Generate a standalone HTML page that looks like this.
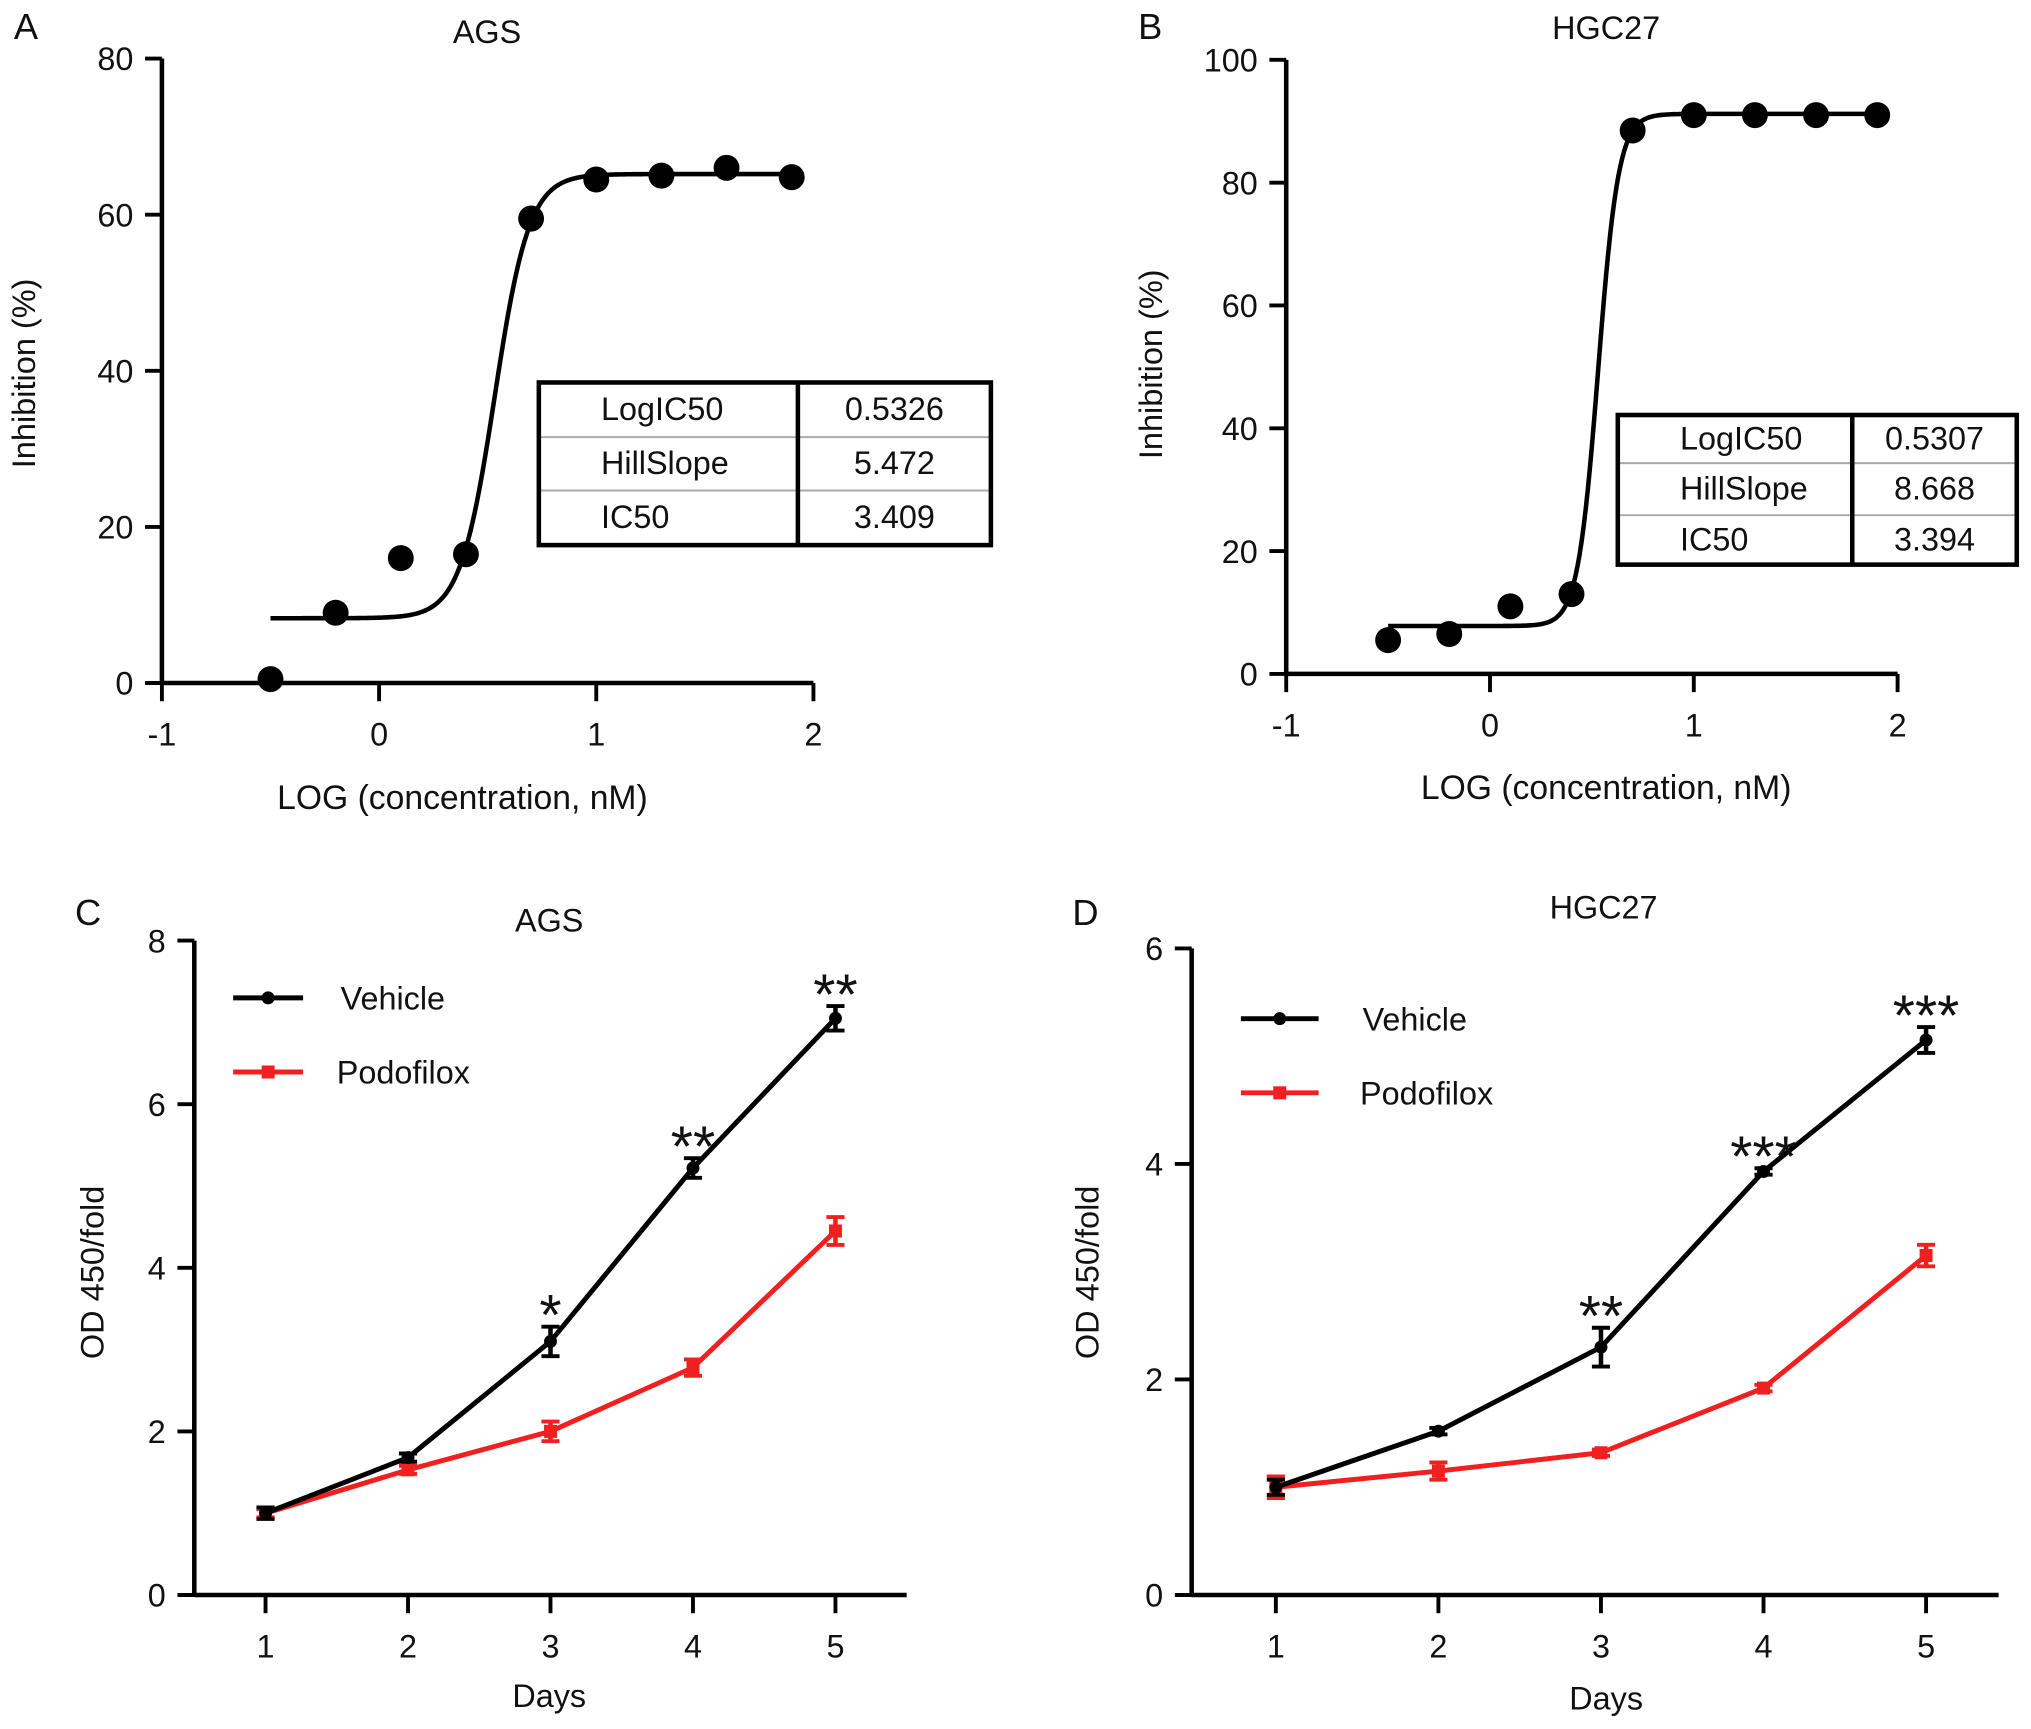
<!DOCTYPE html>
<html><head><meta charset="utf-8"><style>
html,body{margin:0;padding:0;background:#fff;}
svg{display:block;font-family:"Liberation Sans",Arial,sans-serif;}
</style></head><body>
<svg id="fig" width="2031" height="1729" viewBox="0 0 1568 1329" preserveAspectRatio="none" xmlns="http://www.w3.org/2000/svg">
</svg>
<script>
// Panel A data
const aX = [-0.5,-0.2,0.1,0.4,0.7,1.0,1.3,1.6,1.9];
const aY = [0.5,9,16,16.5,59.5,64.5,65,66,64.8];
const aFit = [8.3,65.2,0.5326,5.472]; // bottom, top, logIC50, hill
// Panel B data
const bX = [-0.5,-0.2,0.1,0.4,0.7,1.0,1.3,1.6,1.9];
const bY = [5.5,6.5,11,13,88.5,91,91,91,91];
const bFit = [7.8,91.2,0.5307,8.668];
// Panel C data
const days = [1,2,3,4,5];
const cVeh = [1,1.68,3.1,5.22,7.05];
const cVehErr = [0.07,0.05,0.18,0.12,0.15];
const cPod = [1,1.53,2.0,2.78,4.45];
const cPodErr = [0.05,0.05,0.12,0.1,0.17];
const cStars = ["","","*","**","**"];
// Panel D data
const dVeh = [1,1.52,2.3,3.93,5.15];
const dVehErr = [0.07,0.03,0.18,0.03,0.12];
const dPod = [1,1.15,1.32,1.92,3.15];
const dPodErr = [0.1,0.08,0.03,0.03,0.1];
const dStars = ["","","**","***","***"];

const NS="http://www.w3.org/2000/svg";
const svg=document.getElementById('fig');
function mk(tag,attrs,parent){const e=document.createElementNS(NS,tag);for(const k in attrs)e.setAttribute(k,attrs[k]);(parent||svg).appendChild(e);return e;}
function txt(s,x,y,size,anchor,parent,rot){const t=mk('text',{x:x,y:y,'font-size':size,'text-anchor':anchor||'middle',fill:'#111'},parent);if(rot)t.setAttribute('transform','rotate(-90 '+x+' '+y+')');t.textContent=s;return t;}
const RED='#f02020';
const FS=25;

function axes(g,ox,oy,x0,x1,xmin,xmax,xt,yt,ymin,ymax,ytop,xEnd){
  const sx=v=>x0+(v-xmin)/(xmax-xmin)*(x1-x0);
  const sy=v=>oy-(v-ymin)/(ymax-ymin)*(oy-ytop);
  const ax=mk('g',{},g);
  
  
  mk('line',{x1:ox,y1:oy,x2:xEnd,y2:oy,stroke:'#000','stroke-width':3.5},ax);
  mk('line',{x1:ox,y1:oy+1.5,x2:ox,y2:ytop,stroke:'#000','stroke-width':3.5},ax);
  yt.forEach(v=>{const y=sy(v);mk('line',{x1:ox-13,y1:y,x2:ox,y2:y,stroke:'#000','stroke-width':3},ax);
    const t=txt(String(v),ox-22,y+9,FS,'end',ax);});
  xt.forEach(v=>{const x=sx(v);mk('line',{x1:x,y1:oy,x2:x,y2:oy+14,stroke:'#000','stroke-width':3},ax);
    const t=txt(String(v),x,oy+48,FS,'middle',ax);});
  return {sx,sy};
}

function dosePanel(name,letter,lx,ly,title,tx,ty,ox,oy,x1,ytop,ymax,yt,X,Y,fit,ytx,yty,xtx,xty,tb,tvals){
  const g=mk('g',{});
  
  
  let t=txt(letter,lx,ly,28,'middle',g);
  t=txt(title,tx,ty,FS,'middle',g);
  const {sx,sy}=axes(g,ox,oy,ox,x1,-1,2,[-1,0,1,2],yt,0,ymax,ytop,x1);
  t=txt('Inhibition (%)',ytx,yty,FS,'middle',g,true);
  t=txt('LOG (concentration, nM)',xtx,xty,FS+1,'middle',g);
  const [bot,top,ic,h]=fit;let d='';
  for(let i=0;i<=240;i++){const x=X[0]+(X[X.length-1]-X[0])*i/240;const y=bot+(top-bot)/(1+Math.pow(10,(ic-x)*h));d+=(i?'L':'M')+sx(x).toFixed(2)+' '+sy(y).toFixed(2);}
  const c=mk('path',{d:d,fill:'none',stroke:'#000','stroke-width':3.5},g);
  
  X.forEach((x,i)=>{const p=mk('circle',{cx:sx(x),cy:sy(Y[i]),r:10,fill:'#000'},g);
    });
  const [bx,by,bw,bh,dv,r1,r2]=tb;
  const tg=mk('g',{},g);
  
  
  mk('line',{x1:bx,y1:by+r1,x2:bx+bw,y2:by+r1,stroke:'#aaa','stroke-width':1.5},tg);
  mk('line',{x1:bx,y1:by+r2,x2:bx+bw,y2:by+r2,stroke:'#aaa','stroke-width':1.5},tg);
  mk('rect',{x:bx,y:by,width:bw,height:bh,fill:'none',stroke:'#000','stroke-width':3.5},tg);
  mk('line',{x1:bx+dv,y1:by,x2:bx+dv,y2:by+bh,stroke:'#000','stroke-width':3.5},tg);
  const labels=['LogIC50','HillSlope','IC50'];
  const mids=[r1/2,(r1+r2)/2,(r2+bh)/2];
  labels.forEach((s,i)=>{txt(s,bx+48,by+mids[i]+8,FS,'start',tg);txt(tvals[i],bx+dv+(bw-dv)/2,by+mids[i]+8,FS,'middle',tg);});
}

dosePanel('panel-a-ags-dose','A',20,30,'AGS',376,33,125,525,628,45,80,[0,20,40,60,80],aX,aY,aFit,27,287,357,622,[416,294,349,125,200,42,83],['0.5326','5.472','3.409']);
dosePanel('panel-b-hgc27-dose','B',888,30,'HGC27',1240,30,993,518,1465,46,100,[0,20,40,60,80,100],bX,bY,bFit,897,280,1240,614,[1249,319,308,115,181,37,77],['0.5307','8.668','3.394']);

function growthPanel(name,letter,lx,ly,title,tx,ty,ox,oy,x1pos,x5pos,xEnd,ytop,ymax,yt,veh,vehE,pod,podE,stars,ytx,yty,xtx,xty,leg){
  const g=mk('g',{});
  
  
  let t=txt(letter,lx,ly,28,'middle',g);
  t=txt(title,tx,ty,FS,'middle',g);
  const {sx,sy}=axes(g,ox,oy,x1pos,x5pos,1,5,days,yt,0,ymax,ytop,xEnd);
  t=txt('OD 450/fold',ytx,yty,FS,'middle',g,true);
  t=txt('Days',xtx,xty,FS,'middle',g);
  function series(vals,errs,col,marker,nm){
    const sg=mk('g',{},g);
    
    
    mk('polyline',{points:vals.map((v,i)=>sx(days[i])+','+sy(v)).join(' '),fill:'none',stroke:col,'stroke-width':3.8},sg);
    vals.forEach((v,i)=>{const x=sx(days[i]);const a=sy(v+errs[i]),b=sy(v-errs[i]);
      mk('line',{x1:x,y1:a,x2:x,y2:b,stroke:col,'stroke-width':3.5},sg);
      mk('line',{x1:x-7,y1:a,x2:x+7,y2:a,stroke:col,'stroke-width':3},sg);
      mk('line',{x1:x-7,y1:b,x2:x+7,y2:b,stroke:col,'stroke-width':3},sg);
      if(marker==='c')mk('circle',{cx:x,cy:sy(v),r:5,fill:col},sg);
      else mk('rect',{x:x-5,y:sy(v)-5,width:10,height:10,fill:col},sg);});
  }
  series(pod,podE,RED,'s','podofilox-series');
  series(veh,vehE,'#000','c','vehicle-series');
  stars.forEach((s,i)=>{if(!s)return;const st=txt(s,sx(days[i]),sy(veh[i]+vehE[i])+6,44,'middle',g);
    });
  const [lx1,lx2,ly1,ly2,tx1,tx2]=leg;
  const l1=mk('g',{},g);
  mk('line',{x1:lx1,y1:ly1,x2:lx2,y2:ly1,stroke:'#000','stroke-width':3.8},l1);
  mk('circle',{cx:(lx1+lx2)/2,cy:ly1,r:5,fill:'#000'},l1);
  txt('Vehicle',tx1,ly1+9,FS,'start',l1);
  const l2=mk('g',{},g);
  mk('line',{x1:lx1,y1:ly2,x2:lx2,y2:ly2,stroke:RED,'stroke-width':3.8},l2);
  mk('rect',{x:(lx1+lx2)/2-5,y:ly2-5,width:10,height:10,fill:RED},l2);
  txt('Podofilox',tx2,ly2+9,FS,'start',l2);
}

growthPanel('panel-c-ags-growth','C',68,711,'AGS',424,716,150,1226,205,645,700,723,8,[0,2,4,6,8],cVeh,cVehErr,cPod,cPodErr,cStars,80,978,424,1312,[180,234,767,824,263,260]);
growthPanel('panel-d-hgc27-growth','D',838,711,'HGC27',1238,706,920,1226,985,1487,1543,729,6,[0,2,4,6],dVeh,dVehErr,dPod,dPodErr,dStars,848,978,1240,1314,[958,1018,783,840,1052,1050]);
</script>
</body></html>
